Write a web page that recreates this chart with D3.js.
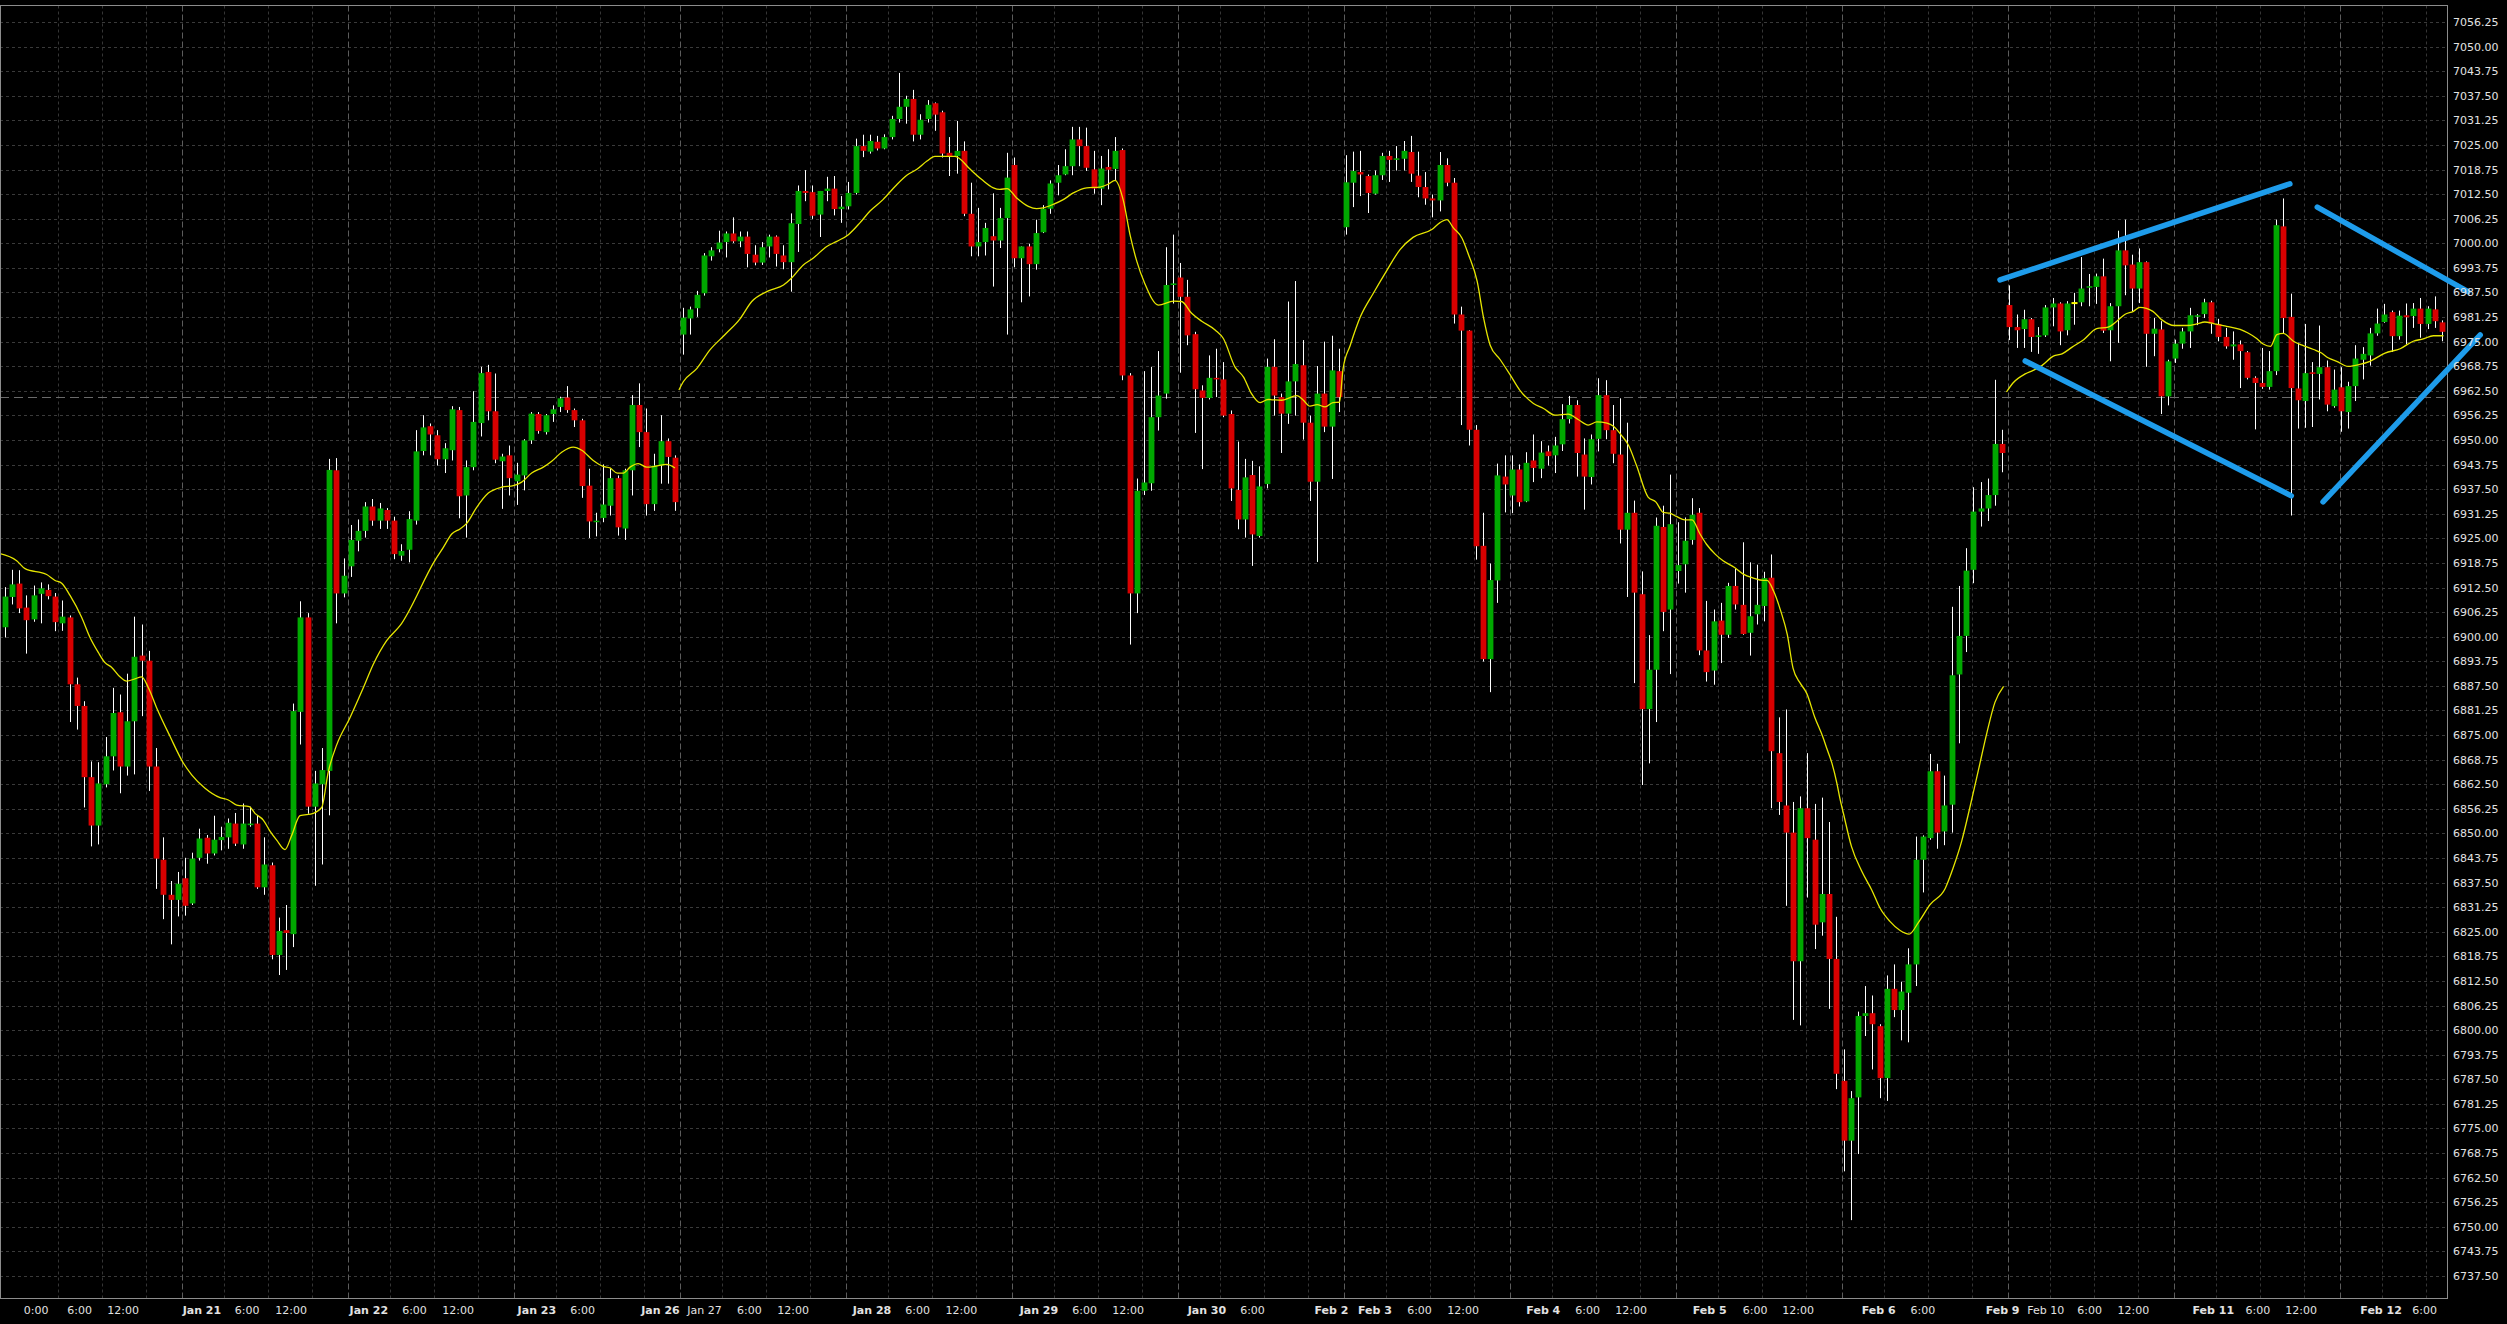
<!DOCTYPE html>
<html><head><meta charset="utf-8">
<script src="https://cdn.jsdelivr.net/npm/d3@7"></script>
<style>html,body{margin:0;padding:0;background:#000;overflow:hidden}</style>
</head><body>
<svg id="c" width="2507" height="1324"></svg>
<script>
// ---------- DATA (hourly bars, index 0..338) ----------
const opens = [
6902.4,6910.1,6913.5,6907.4,6904.4,6910.9,6911.9,6910.2,6903.4,6904.9,
6887.9,6882.4,6864.3,6852.0,6862.5,6869.6,6880.8,6867.0,6878.5,6895.2,
6893.9,6867.0,6843.3,6834.4,6833.1,6838.6,6832.2,6843.8,6848.9,6844.9,
6848.3,6849.0,6852.5,6847.2,6852.1,6852.5,6836.3,6841.9,6819.1,6825.4,
6824.4,6880.9,6904.9,6856.8,6862.5,6865.9,6942.3,6911.0,6917.9,6924.4,
6926.9,6933.1,6929.5,6932.2,6929.5,6920.6,6922.1,6929.5,6947.2,6953.5,
6951.2,6945.1,6947.4,6957.6,6935.9,6943.1,6954.3,6967.3,6957.3,6944.6,
6946.1,6939.5,6941.0,6949.9,6956.6,6952.0,6956.6,6958.4,6960.8,6957.6,
6955.0,6938.4,6929.1,6930.2,6933.3,6940.3,6927.5,6942.3,6958.9,6952.0,
6933.7,6943.5,6949.7,6945.5,
6976.8,6980.9,6983.5,6987.3,6996.7,6998.5,
7000.3,7002.5,7000.5,7001.7,6997.1,6995.1,6999.2,7001.7,6996.9,6995.2,
7004.9,7013.3,7013.0,7007.3,7013.3,7013.9,7008.7,7009.4,7012.8,7024.7,
7023.3,7025.8,7024.1,7027.0,7031.6,7034.7,7036.7,7027.6,7031.6,7035.6,
7033.3,7023.0,7022.2,7023.5,7007.5,6999.2,7000.3,7001.8,7000.7,7006.4,
7019.9,6996.2,6999.2,6994.7,7002.8,7008.8,7015.4,7017.5,7019.6,7026.4,
7024.7,7018.8,7013.9,7019.4,7018.9,7023.7,6966.4,6911.0,6937.1,6939.0,
6955.8,6961.8,6989.4,6991.3,6986.4,6976.9,6962.6,6960.7,6965.8,6965.4,
6956.6,6937.3,6929.8,6941.1,6925.6,6938.8,6968.6,6960.9,6956.7,6964.9,
6969.0,6954.4,6939.4,6961.8,6953.4,6967.5,7004.1,7015.4,7018.1,7017.1,
7012.6,7017.3,7022.2,7021.2,7021.5,7023.2,7017.2,7014.3,7011.4,7010.9,
7019.9,7015.4,6981.9,6977.8,6952.6,6923.1,6894.3,6914.3,6940.7,6935.9,
6942.5,6934.4,6944.8,6942.7,6947.1,6946.1,6948.9,6955.3,6958.9,6946.3,
6940.6,6950.3,6961.4,6952.5,6946.3,6927.2,6931.5,6910.8,6881.6,6891.6,
6927.9,6906.9,6916.7,6918.4,6924.6,6931.5,6896.5,6891.4,6904.1,6900.5,
6912.9,6908.1,6901.0,6905.7,6907.8,6915.0,6870.4,6857.1,6850.2,6817.5,
6856.4,6848.4,6827.4,6834.6,6818.1,6787.1,6771.9,6782.9,6803.6,6804.3,
6801.0,6787.8,6810.5,6805.1,6809.5,6816.7,6843.3,6848.8,6865.8,6850.5,
6857.3,6890.4,6900.2,6917.0,6931.8,6932.6,6936.0,6949.0,
6984.3,6978.7,6978.2,6980.7,6976.2,6976.6,6983.7,6984.7,6977.9,6984.8,
6985.0,6988.7,6988.9,6991.6,6977.9,6984.0,6998.2,6994.6,6988.5,6995.2,
6977.0,6978.1,6961.1,6970.7,6974.5,6977.6,6981.3,6982.0,6985.0,6979.5,
6976.2,6973.8,6974.3,6972.3,6965.8,6964.5,6963.5,6967.5,7004.3,6981.3,
6963.1,6959.9,6967.2,6966.8,6968.5,6958.6,6963.4,6957.1,6963.7,6970.4,
6971.5,6977.1,6980.0,6982.5,6976.4,6981.7,6981.5,6983.4,6979.5,6983.2,6979.9];

const highs = [
6912.6,6917.0,6916.9,6910.5,6913.0,6913.8,6913.3,6911.1,6909.2,6905.4,
6889.6,6883.6,6868.3,6868.1,6874.5,6887.0,6885.3,6890.6,6905.1,6903.1,
6896.4,6871.7,6849.0,6837.9,6840.2,6843.8,6845.1,6851.2,6849.6,6854.5,
6851.7,6853.8,6855.2,6857.6,6856.8,6854.6,6849.0,6842.6,6828.6,6831.8,
6883.0,6909.0,6906.0,6865.9,6871.7,6945.2,6945.4,6919.9,6928.4,6929.8,
6934.2,6935.0,6934.0,6932.7,6930.5,6923.5,6931.9,6952.5,6956.3,6954.2,
6952.5,6949.2,6958.6,6958.4,6944.8,6962.4,6968.6,6969.1,6966.9,6946.5,
6948.6,6944.2,6950.2,6957.1,6957.1,6956.6,6958.8,6961.0,6963.7,6958.0,
6955.4,6942.7,6931.5,6943.8,6942.7,6941.0,6942.7,6961.4,6964.4,6958.0,
6946.5,6956.3,6950.4,6946.1,
6983.6,6983.9,6987.9,6997.5,6999.0,7003.2,
7003.0,7006.6,7003.0,7003.0,6999.5,7000.3,7002.2,7002.0,6999.5,7007.6,
7014.7,7018.6,7014.7,7013.3,7016.9,7017.1,7012.0,7015.6,7026.6,7027.6,
7027.6,7027.3,7027.7,7032.4,7043.3,7037.5,7039.0,7032.8,7036.4,7035.8,
7033.7,7027.0,7031.1,7025.9,7015.4,7009.0,7005.2,7012.7,7009.0,7023.0,
7021.8,6999.2,6999.9,7006.0,7009.7,7016.0,7019.9,7023.9,7029.6,7029.6,
7029.4,7023.5,7022.2,7023.9,7027.0,7024.1,6967.0,6940.2,6967.5,6968.6,
6972.6,6999.0,7002.2,6995.0,6990.7,6977.5,6963.9,6971.5,6973.2,6969.8,
6957.5,6949.6,6945.2,6944.7,6943.3,6970.7,6975.6,6961.8,6985.2,6990.4,
6975.4,6956.2,6968.8,6975.0,6976.5,6973.2,7022.4,7023.3,7023.5,7017.5,
7018.5,7023.0,7023.5,7024.7,7026.0,7027.3,7023.3,7018.1,7012.4,7023.2,
7021.6,7016.6,6983.9,6977.9,6953.8,6931.5,6918.6,6944.0,6946.1,6946.1,
6943.8,6946.9,6951.4,6949.7,6948.6,6950.8,6959.1,6961.2,6960.1,6950.4,
6951.4,6965.7,6965.2,6958.9,6960.6,6954.4,6934.6,6916.6,6900.4,6930.3,
6933.3,6941.2,6929.1,6930.3,6935.2,6932.7,6909.1,6906.9,6908.6,6913.7,
6917.2,6924.0,6918.9,6918.3,6916.5,6920.9,6879.5,6881.5,6858.0,6859.4,
6870.4,6857.5,6859.1,6852.9,6828.8,6795.1,6784.5,6804.7,6811.2,6808.8,
6801.5,6813.9,6816.7,6812.3,6820.8,6849.2,6849.5,6870.2,6867.7,6864.7,
6907.6,6912.9,6922.5,6938.0,6939.3,6940.2,6965.3,6952.6,
6989.3,6981.9,6983.1,6981.0,6978.7,6984.3,6986.1,6985.0,6985.3,6987.4,
6996.5,6992.2,6992.3,6996.1,6984.8,7003.2,7006.0,6997.1,6998.7,6995.4,
6981.0,6980.2,6970.4,6975.5,6978.5,6983.6,6982.0,6985.9,6985.4,6980.8,
6978.5,6977.6,6975.3,6972.6,6966.2,6973.4,6972.6,7006.0,7011.4,6987.2,
6974.7,6979.5,6969.8,6979.1,6970.2,6967.9,6968.5,6964.8,6974.1,6973.6,
6978.5,6983.4,6984.6,6982.9,6982.9,6984.7,6984.8,6986.1,6984.0,6986.5,6980.4];

const lows = [
6899.8,6908.2,6906.0,6895.7,6903.8,6903.4,6909.5,6901.4,6901.5,6878.3,
6876.4,6856.6,6846.7,6847.2,6861.7,6866.0,6860.2,6864.7,6865.0,6879.8,
6860.8,6835.9,6828.2,6821.8,6828.9,6829.1,6831.8,6843.1,6842.3,6844.4,
6845.7,6846.1,6846.8,6846.1,6851.7,6835.9,6834.4,6818.0,6814.0,6815.3,
6821.1,6872.6,6855.0,6836.7,6842.1,6854.6,6903.4,6910.0,6915.2,6921.7,
6925.2,6928.2,6927.4,6927.4,6919.7,6919.3,6918.9,6928.5,6946.1,6946.1,
6943.5,6941.6,6944.8,6930.1,6925.2,6942.3,6950.9,6955.0,6944.1,6932.5,
6935.9,6933.5,6937.2,6949.0,6951.6,6951.4,6954.6,6957.1,6956.9,6953.3,
6935.3,6925.1,6925.5,6929.1,6930.8,6925.7,6924.6,6935.9,6948.2,6930.8,
6932.0,6938.9,6938.9,6932.0,
6971.7,6976.8,6981.3,6986.7,6995.6,6997.7,
6996.4,7000.1,6999.0,6993.9,6994.4,6994.5,6996.4,6994.1,6993.4,6987.7,
6997.8,7010.7,7006.2,7001.6,7010.7,7007.1,7005.2,7008.6,7012.4,7021.9,
7022.8,7023.6,7023.9,7026.4,7030.7,7030.4,7025.9,7026.4,7030.7,7028.6,
7021.8,7017.1,7017.7,7006.9,6996.7,6996.7,6996.9,6989.0,6998.8,6976.8,
6993.9,6985.0,6986.5,6993.3,7002.6,7007.5,7012.2,7017.3,7017.3,7019.6,
7018.4,7012.6,7009.7,7013.7,7015.8,6965.2,6898.0,6906.0,6936.0,6937.1,
6952.4,6960.5,6984.7,6967.1,6974.1,6951.8,6942.6,6960.3,6960.9,6955.8,
6934.5,6927.3,6925.2,6918.0,6925.2,6937.7,6956.2,6946.7,6954.1,6956.2,
6950.1,6934.5,6919.0,6952.0,6940.1,6957.1,7002.2,7009.2,7012.0,7007.7,
7012.4,7016.1,7015.6,7018.5,7018.5,7015.6,7011.7,7009.8,7006.6,7008.1,
7014.5,6979.6,6953.8,6948.6,6919.6,6893.7,6885.9,6908.6,6931.6,6931.4,
6933.1,6934.2,6939.3,6940.3,6943.5,6941.6,6947.2,6954.2,6940.7,6932.3,
6938.7,6947.1,6950.2,6944.1,6923.7,6910.1,6888.2,6862.3,6867.8,6878.3,
6901.4,6890.5,6913.5,6911.2,6923.4,6895.3,6888.6,6887.8,6893.3,6899.7,
6906.9,6900.5,6895.2,6903.1,6903.9,6856.4,6854.7,6831.6,6802.6,6801.2,
6833.7,6820.6,6824.0,6805.4,6785.0,6764.1,6751.7,6768.5,6798.5,6790.0,
6782.7,6782.0,6803.3,6797.4,6796.9,6811.2,6835.0,6848.4,6846.1,6847.0,
6850.2,6872.9,6896.1,6913.6,6928.0,6929.4,6933.3,6941.8,
6975.4,6973.4,6973.4,6972.4,6971.9,6976.2,6978.9,6974.1,6976.6,6979.3,
6984.0,6984.0,6984.6,6977.2,6970.0,6974.7,6986.8,6982.7,6984.8,6968.6,
6971.3,6956.6,6958.8,6969.6,6973.2,6973.4,6979.2,6981.0,6977.0,6975.1,
6973.2,6970.4,6963.2,6965.4,6952.7,6963.0,6962.8,6966.5,6977.1,6930.8,
6952.9,6953.1,6953.3,6960.3,6957.3,6958.2,6952.1,6952.9,6959.9,6965.4,
6968.9,6976.5,6979.8,6972.4,6975.5,6974.3,6978.5,6976.0,6978.2,6978.5,6975.1];

const closes = [
6910.2,6913.3,6907.2,6904.2,6910.5,6912.3,6910.3,6903.7,6905.1,6887.9,
6882.4,6864.3,6852.0,6862.7,6869.6,6880.6,6867.0,6878.5,6894.9,6893.9,
6867.0,6843.6,6834.4,6833.1,6837.2,6831.6,6843.6,6848.7,6844.9,6848.4,
6849.1,6852.7,6847.4,6852.5,6852.5,6836.3,6842.1,6819.1,6825.2,6824.7,
6881.1,6904.9,6856.8,6862.7,6866.1,6942.4,6911.0,6915.5,6924.6,6926.9,
6933.1,6929.5,6932.6,6929.5,6921.0,6921.8,6929.9,6947.1,6953.2,6951.4,
6945.1,6947.9,6957.8,6935.7,6943.1,6954.6,6967.0,6957.3,6945.0,6945.8,
6940.3,6941.2,6949.9,6956.7,6952.3,6956.3,6957.8,6960.6,6957.6,6955.0,
6938.3,6929.3,6929.5,6933.6,6940.3,6927.8,6942.3,6958.9,6952.0,6933.7,
6943.5,6949.7,6945.7,6934.2,
6981.1,6983.2,6986.9,6996.9,6998.2,7000.2,
7002.5,7000.5,7001.7,6997.3,6995.1,6999.0,7001.7,6997.3,6995.2,7005.1,
7013.3,7012.8,7007.0,7013.3,7013.9,7008.7,7009.3,7012.8,7024.7,7023.5,
7026.0,7024.1,7027.0,7031.6,7034.7,7036.7,7027.6,7031.4,7035.2,7032.7,
7022.8,7022.2,7023.5,7007.5,6999.2,7000.3,7003.9,7000.7,7006.4,7016.7,
6996.2,6999.2,6994.7,7002.6,7008.8,7015.2,7017.3,7019.6,7026.4,7024.7,
7019.2,7013.9,7019.0,7018.7,7023.5,6966.4,6911.0,6937.1,6939.2,6955.8,
6961.3,6989.4,6989.8,6986.4,6976.6,6962.9,6960.7,6965.8,6965.4,6956.2,
6937.7,6929.8,6940.5,6926.0,6938.2,6968.6,6961.3,6956.7,6964.9,6969.3,
6954.4,6939.4,6961.8,6953.4,6967.7,6960.9,7015.5,7018.4,7017.5,7012.8,
7017.3,7022.2,7021.2,7021.6,7023.5,7017.7,7014.3,7011.4,7010.9,7019.9,
7015.4,6981.9,6977.8,6952.6,6923.0,6894.3,6914.4,6941.0,6938.7,6942.5,
6934.2,6944.2,6942.9,6946.8,6945.9,6948.6,6955.3,6958.9,6946.7,6940.7,
6950.2,6961.4,6952.5,6946.5,6927.2,6931.5,6911.2,6881.6,6891.6,6928.2,
6906.3,6928.6,6918.2,6924.4,6931.0,6896.5,6891.0,6903.9,6900.5,6912.9,
6908.2,6900.7,6905.2,6908.1,6914.9,6870.9,6858.0,6850.2,6817.5,6856.4,
6848.8,6826.8,6834.6,6818.1,6788.9,6771.9,6782.7,6803.6,6804.3,6801.5,
6787.8,6810.5,6805.1,6809.8,6816.7,6843.3,6849.2,6865.8,6850.2,6857.1,
6890.2,6900.2,6916.8,6931.8,6932.6,6936.0,6949.0,6946.7,
6978.7,6977.9,6980.7,6976.2,6976.6,6983.7,6984.7,6977.6,6984.7,6984.8,
6988.5,6989.1,6991.6,6977.8,6984.0,6998.2,6994.4,6988.5,6995.2,6977.0,
6978.3,6961.1,6970.0,6974.5,6977.6,6981.7,6981.7,6985.0,6979.6,6976.2,
6973.8,6974.3,6972.6,6965.8,6964.5,6963.5,6967.5,7004.6,6981.0,6963.2,
6960.1,6967.0,6966.8,6968.5,6959.0,6962.8,6957.3,6963.7,6970.7,6971.9,
6977.1,6979.6,6981.9,6976.4,6981.6,6981.2,6983.4,6979.5,6983.4,6980.2,6977.5];

// moving-average line, three separate segments: [bar position, value]
const maSegA = [[-0.65,6921.1],[1.66,6919.3],[2.82,6917.3],[5.82,6915.8],[6.98,6914.3],[7.9,6913.6],[9.06,6910.5],[10.68,6904.9],[11.83,6899.8],[12.98,6896.0],[13.91,6893.4],[14.84,6892.2],[15.99,6889.8],[16.92,6888.7],[18.07,6889.3],[19.0,6889.8],[19.91,6887.1],[21.08,6881.9],[22.92,6874.7],[24.77,6867.9],[25.93,6864.9],[27.78,6861.5],[29.86,6859.1],[31.01,6858.5],[32.17,6857.2],[33.92,6856.8],[34.71,6855.1],[35.86,6853.4],[36.79,6850.6],[37.72,6848.3],[38.87,6845.9],[39.8,6849.5],[40.95,6854.5],[42.8,6855.1],[43.96,6856.6],[44.88,6865.7],[46.04,6872.5],[47.88,6879.4],[49.73,6887.0],[51.12,6893.0],[52.97,6899.0],[54.82,6902.8],[59.67,6919.4],[60.83,6922.7],[61.99,6926.1],[63.14,6927.4],[64.07,6928.8],[65.46,6932.9],[67.07,6936.5],[68.92,6938.0],[70.53,6938.4],[71.69,6939.3],[73.08,6941.6],[74.69,6943.1],[75.86,6944.6],[77.24,6946.9],[78.85,6948.2],[80.02,6947.4],[81.62,6944.8],[83.01,6943.3],[83.94,6942.9],[84.95,6941.6],[85.79,6941.6],[86.72,6943.1],[87.87,6944.0],[89.03,6943.1],[90.18,6943.3],[91.8,6943.8],[92.95,6942.9]];
const maSegB = [[93.5,6962.7],[94.1,6964.8],[96.0,6968.2],[97.8,6972.9],[99.9,6976.8],[101.97,6980.8],[103.6,6985.2],[105.9,6987.9],[108.0,6989.4],[109.1,6991.1],[110.75,6994.5],[112.1,6996.2],[114.0,6999.2],[115.4,7000.5],[117.0,7002.2],[118.6,7005.2],[120.0,7008.2],[121.8,7011.1],[123.5,7014.5],[125.1,7017.3],[126.5,7018.8],[127.9,7020.9],[129.0,7022.1],[131.8,7022.1],[132.2,7021.8],[133.9,7018.8],[135.5,7016.2],[137.1,7014.1],[138.0,7013.7],[139.0,7013.9],[140.3,7011.6],[141.95,7009.4],[143.1,7008.8],[144.0,7009.0],[145.4,7009.9],[146.8,7011.1],[148.2,7012.8],[150.05,7014.1],[151.9,7014.3],[153.0,7015.0],[154.0,7016.0],[155.1,7011.1],[156.1,7001.8],[157.0,6995.4],[158.1,6989.8],[160.0,6984.3],[162.1,6985.3],[163.2,6985.2],[164.6,6982.2],[166.0,6980.2],[167.9,6977.9],[169.0,6975.8],[170.6,6968.6],[171.8,6966.0],[172.9,6961.8],[174.1,6959.5],[175.2,6960.3],[177.1,6960.1],[179.2,6961.3],[180.1,6960.1],[181.0,6958.6],[182.0,6959.0],[183.1,6958.4],[184.2,6959.5],[185.1,6959.6],[185.6,6968.1],[186.6,6974.1],[188.0,6981.3],[189.8,6987.3],[191.7,6993.2],[193.5,6998.4],[195.3,7001.5],[197.9,7003.5],[199.0,7005.2],[200.0,7006.0],[200.9,7003.9],[202.1,7001.3],[203.0,6997.1],[204.2,6990.3],[205.1,6980.9],[206.0,6974.1],[207.4,6970.4],[208.8,6966.5],[210.1,6962.7],[212.0,6959.3],[213.4,6958.0],[215.0,6956.3],[216.8,6956.6],[218.2,6955.2],[219.6,6953.8],[220.8,6954.6],[222.2,6954.3],[223.1,6953.5],[224.2,6951.2],[225.2,6948.6],[226.3,6943.5],[227.9,6935.5],[229.0,6934.2],[230.0,6931.6],[230.9,6931.4],[231.9,6930.5],[233.0,6929.7],[234.0,6929.7],[235.1,6926.1],[236.0,6923.5],[237.2,6921.0],[238.3,6919.3],[239.9,6917.6],[241.1,6915.9],[242.5,6914.9],[243.9,6914.3],[244.4,6914.3],[245.3,6911.6],[246.3,6906.5],[247.2,6900.6],[248.0,6892.0],[249.0,6888.2],[249.9,6885.6],[251.0,6879.6],[252.2,6874.2],[252.7,6871.5],[253.4,6867.8],[254.1,6862.6],[254.5,6858.9],[255.0,6855.0],[256.1,6846.7],[257.5,6840.5],[258.9,6835.7],[260.1,6830.9],[261.4,6827.7],[262.8,6825.4],[264.1,6824.4],[265.4,6827.4],[267.0,6831.9],[269.1,6836.0],[270.2,6841.2],[271.4,6848.1],[272.5,6856.4],[273.7,6866.0],[274.9,6875.7],[276.0,6883.3],[277.2,6887.4]];
const maSegC = [[277.6,6962.2],[278.5,6964.5],[280.2,6966.8],[281.3,6967.7],[282.5,6968.9],[284.1,6971.3],[285.3,6971.9],[286.7,6973.6],[288.3,6975.5],[290.1,6978.3],[291.7,6978.7],[292.9,6980.2],[294.0,6981.9],[295.2,6982.7],[296.1,6983.7],[297.9,6982.7],[299.1,6980.6],[300.9,6979.1],[302.6,6979.1],[304.0,6979.5],[305.1,6980.0],[306.3,6979.6],[308.1,6978.9],[310.0,6978.1],[311.1,6977.2],[312.3,6975.8],[313.2,6974.4],[314.2,6973.8],[315.1,6976.8],[316.0,6977.1],[317.4,6975.1],[318.6,6974.1],[320.2,6973.0],[321.3,6972.1],[322.2,6970.9],[323.4,6970.0],[325.0,6968.7],[326.6,6969.2],[328.0,6970.0],[330.1,6972.1],[332.2,6973.2],[334.0,6975.1],[335.4,6975.7],[336.8,6976.5],[338.2,6976.5]];

// drawn trend lines [bar1, price1, bar2, price2]
const trendLines = [[276.7,6990.7,316.9,7015.1],[280.2,6970.1,317.1,6935.8],[320.7,7009.2,341.6,6987.7],[321.5,6934.3,343.3,6976.7]];
const hLinePrice = 6960.85;

// time-axis labels [bar position, text, bold]
const timeLabels = [[2.65,"0:00",0],[8.67,"6:00",0],[14.23,"12:00",0],[24.68,"Jan 21",1],[31.9,"6:00",0],[37.53,"12:00",0],
[47.83,"Jan 22",1],[55.12,"6:00",0],[60.69,"12:00",0],[71.13,"Jan 23",1],[78.42,"6:00",0],[88.27,"Jan 26",1],[94.66,"Jan 27",0],
[101.56,"6:00",0],[107.13,"12:00",0],[117.6,"Jan 28",1],[124.9,"6:00",0],[130.46,"12:00",0],[140.75,"Jan 29",1],[148.04,"6:00",0],
[153.6,"12:00",0],[164.05,"Jan 30",1],[171.33,"6:00",0],[181.64,"Feb 2",1],[187.66,"Feb 3",1],[194.49,"6:00",0],[200.05,"12:00",0],
[211.02,"Feb 4",1],[217.79,"6:00",0],[223.35,"12:00",0],[234.1,"Feb 5",1],[241.03,"6:00",0],[246.52,"12:00",0],[257.52,"Feb 6",1],
[264.3,"6:00",0],[274.71,"Feb 9",1],[280.49,"Feb 10",0],[287.43,"6:00",0],[292.99,"12:00",0],[303.4,"Feb 11",1],[310.75,"6:00",0],
[316.26,"12:00",0],[326.67,"Feb 12",1],[333.88,"6:00",0]];
const priceTicks = d3.range(6737.5, 7056.26, 6.25);

// ---------- DRAW ----------
const W = 2507, H = 1324;
const plotL = 0.5, plotT = 5.5, plotR = 2447.5, plotB = 1298.5;
const svg = d3.select('#c');
const x = d3.scaleLinear().domain([0, 338]).range([4.7, 4.7 + 338 * 7.211]);
const y = d3.scaleLinear().domain([6737.5, 7056.25]).range([1276.0, 22.0]);
const px = v => Math.round(v) + 0.5;

svg.append('rect').attr('width', W).attr('height', H).attr('fill', '#000');
svg.append('defs').append('clipPath').attr('id', 'plot')
  .append('rect').attr('x', 0).attr('y', plotT).attr('width', plotR).attr('height', plotB - plotT);
const g = svg.append('g').attr('clip-path', 'url(#plot)');

// horizontal grid
g.selectAll('line.hg').data(priceTicks).enter().append('line')
  .attr('x1', 0).attr('x2', plotR).attr('y1', d => px(y(d))).attr('y2', d => px(y(d)))
  .attr('stroke', '#3a3a3a').attr('stroke-width', 1).attr('stroke-dasharray', '3,3');

// vertical grid (period of 23.02 bars, sub-lines at fixed offsets)
const vgrid = [];
for (let k = -1; k <= 14; k++) {
  [0, 5.88, 12.02, 18.03].forEach((o, j) => {
    const b = 24.53 + 23.02 * k + o;
    if (b > -0.5 && b < 339 && !(k === -1 && j === 0)) vgrid.push([b, j === 0]);
  });
}
g.selectAll('line.vg').data(vgrid).enter().append('line')
  .attr('x1', d => px(x(d[0]))).attr('x2', d => px(x(d[0])))
  .attr('y1', plotT).attr('y2', plotB)
  .attr('stroke', d => d[1] ? '#5c5c5c' : '#353535')
  .attr('stroke-width', 1).attr('stroke-dasharray', d => d[1] ? '6,3' : '3,3');

// horizontal line object
g.append('line').attr('x1', 0).attr('x2', plotR).attr('y1', px(y(hLinePrice))).attr('y2', px(y(hLinePrice)))
  .attr('stroke', '#6a6a6a').attr('stroke-width', 1).attr('stroke-dasharray', '9,5');

// candles
const bars = d3.range(Math.min(opens.length, highs.length, lows.length, closes.length));
const cg = g.append('g');
cg.selectAll('line.w').data(bars).enter().append('line')
  .attr('x1', i => px(x(i))).attr('x2', i => px(x(i)))
  .attr('y1', i => y(highs[i])).attr('y2', i => y(lows[i]))
  .attr('stroke', '#ffffff').attr('stroke-width', 1);
cg.selectAll('rect.b').data(bars.filter(i => opens[i] !== closes[i])).enter().append('rect')
  .attr('x', i => px(x(i)) - 2.9).attr('width', 5.8)
  .attr('y', i => y(Math.max(opens[i], closes[i])))
  .attr('height', i => Math.max(1.2, Math.abs(y(opens[i]) - y(closes[i]))))
  .attr('fill', i => closes[i] > opens[i] ? '#00a800' : '#d80000');
cg.selectAll('line.d').data(bars.filter(i => opens[i] === closes[i])).enter().append('line')
  .attr('x1', i => px(x(i)) - 3).attr('x2', i => px(x(i)) + 3)
  .attr('y1', i => y(opens[i])).attr('y2', i => y(opens[i]))
  .attr('stroke', '#ffff00').attr('stroke-width', 2);

// moving average
const line = d3.line().x(d => x(d[0])).y(d => y(d[1])).curve(d3.curveMonotoneX);
[maSegA, maSegB, maSegC].forEach(s => g.append('path').attr('d', line(s))
  .attr('fill', 'none').attr('stroke', '#e6e600').attr('stroke-width', 1.3));

// frame
svg.append('rect').attr('x', plotL).attr('y', plotT).attr('width', plotR - plotL).attr('height', plotB - plotT)
  .attr('fill', 'none').attr('stroke', '#8c8c8c').attr('stroke-width', 1);

// trend lines (not clipped, extend over axis)
svg.selectAll('line.tl').data(trendLines).enter().append('line')
  .attr('x1', d => x(d[0])).attr('y1', d => y(d[1])).attr('x2', d => x(d[2])).attr('y2', d => y(d[3]))
  .attr('stroke', '#1e9ceb').attr('stroke-width', 5.5).attr('stroke-linecap', 'round');

// price labels
svg.selectAll('text.p').data(priceTicks).enter().append('text')
  .attr('x', 2453).attr('y', d => y(d) + 4)
  .attr('fill', '#e2e2e2').attr('font-family', 'DejaVu Sans, Verdana, sans-serif').attr('font-size', 11)
  .text(d => d.toFixed(2));

// time labels
svg.selectAll('text.t').data(timeLabels).enter().append('text')
  .attr('x', d => x(d[0])).attr('y', 1314)
  .attr('fill', '#e2e2e2').attr('font-family', 'DejaVu Sans, Verdana, sans-serif').attr('font-size', 11)
  .attr('font-weight', d => d[2] ? 'bold' : 'normal')
  .text(d => d[1]);
</script>
</body></html>
